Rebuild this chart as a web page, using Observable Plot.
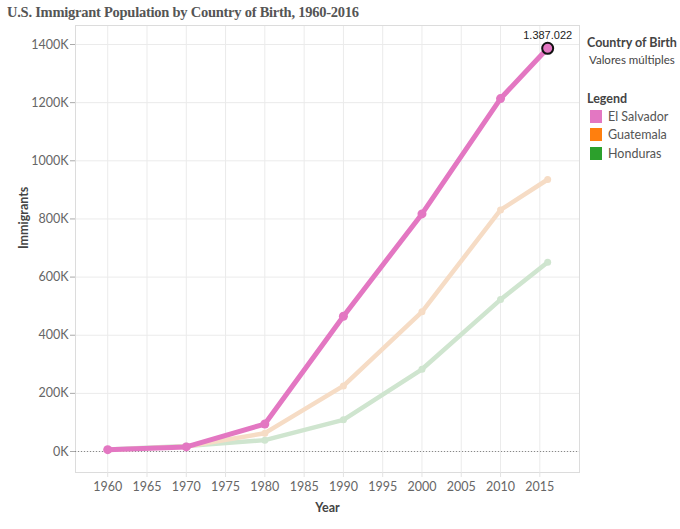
<!DOCTYPE html>
<html>
<head>
<meta charset="utf-8">
<script src="https://cdn.jsdelivr.net/npm/d3@7"></script>
<script src="https://cdn.jsdelivr.net/npm/@observablehq/plot@0.6"></script>
<style>
  html, body { margin: 0; padding: 0; background: #fff; }
  #wrap { position: relative; width: 680px; height: 529px; overflow: hidden; }
  #title { position: absolute; left: 7px; top: 4px; font-family: "Liberation Serif", serif; font-weight: bold; font-size: 14.5px; letter-spacing: -0.25px; color: #555; white-space: nowrap; }
  #chart { position: absolute; left: 0; top: 25px; }
  #legend { position: absolute; left: 587px; top: 35px; font-family: Lato, sans-serif; color: #333; }
  .lh { font-weight: bold; font-size: 12.5px; color: #444; }
  .sub { font-size: 11.5px; color: #444; margin-left: 2px; margin-top: 3px; }
  .item { display: flex; align-items: center; font-size: 12.5px; color: #555; height: 18.5px; margin-left: 3px; }
  .sw { width: 12px; height: 13px; margin-right: 6px; }
</style>
</head>
<body>
<div id="wrap">
  <div id="title">U.S. Immigrant Population by Country of Birth, 1960-2016</div>
  <div id="chart"></div>
  <div id="legend"></div>
</div>
<script>
const years = [1960, 1970, 1980, 1990, 2000, 2010, 2016];
const elSalvador = [6310, 15717, 94447, 465433, 817336, 1214049, 1387022];
const guatemala = [5381, 17356, 63073, 225739, 480665, 830824, 935705];
const honduras = [6503, 19118, 39154, 108923, 282852, 522581, 651059];
const countries = ["El Salvador", "Guatemala", "Honduras"];
const xTicks = [1960, 1965, 1970, 1975, 1980, 1985, 1990, 1995, 2000, 2005, 2010, 2015];
const yTicks = [0, 200000, 400000, 600000, 800000, 1000000, 1200000, 1400000];
const highlightLabel = "1.387.022";

const legendColors = ["#e377c2", "#ff7f0e", "#2ca02c"];
const fadedColors = ["#e377c2", "#f6dcc5", "#cfe5cf"];

const series = [elSalvador, guatemala, honduras];
const rows = [];
countries.forEach((c, i) => years.forEach((y, j) => rows.push({country: c, year: y, value: series[i][j]})));
const es = rows.filter(d => d.country === "El Salvador");
const gu = rows.filter(d => d.country === "Guatemala");
const ho = rows.filter(d => d.country === "Honduras");
const last = es.filter(d => d.year === 2016);

const chart = Plot.plot({
  width: 680,
  height: 504,
  marginTop: 0,
  marginLeft: 75,
  marginRight: 101,
  marginBottom: 57,
  style: {fontFamily: "Lato, sans-serif", fontSize: "12px", color: "#666", background: "transparent"},
  x: {domain: [1955.9, 2020.05], label: null},
  y: {domain: [-72200, 1465400], label: null},
  marks: [
    Plot.gridX(xTicks, {stroke: "#ebebeb", strokeOpacity: 1}),
    Plot.gridY(yTicks, {stroke: "#ebebeb", strokeOpacity: 1}),
    Plot.frame({stroke: "#dcdcdc"}),
    Plot.axisX(xTicks, {tickFormat: d => String(d), tickSize: 5, tickPadding: 5, stroke: "#e3e3e3", fill: "#666", fontSize: 12.5}),
    Plot.axisY(yTicks, {tickFormat: d => (d / 1000) + "K", tickSize: 5, tickPadding: 2, stroke: "#aaa", fill: "#666", fontSize: 12.5}),
    Plot.ruleY([0], {stroke: "#888", strokeDasharray: "1,2", strokeWidth: 1}),
    Plot.line(ho, {x: "year", y: "value", stroke: fadedColors[2], strokeWidth: 4.5, strokeLinecap: "round"}),
    Plot.dot(ho, {x: "year", y: "value", fill: fadedColors[2], r: 3.5}),
    Plot.line(gu, {x: "year", y: "value", stroke: fadedColors[1], strokeWidth: 4.5, strokeLinecap: "round"}),
    Plot.dot(gu, {x: "year", y: "value", fill: fadedColors[1], r: 3.5}),
    Plot.line(es, {x: "year", y: "value", stroke: fadedColors[0], strokeWidth: 5, strokeLinecap: "round"}),
    Plot.dot(es, {x: "year", y: "value", fill: fadedColors[0], r: 4.5}),
    Plot.dot(last, {x: "year", y: "value", fill: fadedColors[0], stroke: "#111", strokeWidth: 2, r: 5.5}),
    Plot.text(last, {x: "year", y: "value", text: () => highlightLabel, dy: -13, fill: "#222", fontSize: 11, fontFamily: "Liberation Sans, Arial, sans-serif"}),
    Plot.text(["Year"], {frameAnchor: "bottom", dy: 39, fontWeight: "bold", fill: "#444", fontSize: 12.5}),
    Plot.text(["Immigrants"], {frameAnchor: "left", dx: -52, rotate: -90, fontWeight: "bold", fill: "#444", fontSize: 12.5})
  ]
});
document.getElementById("chart").appendChild(chart);

const legend = document.getElementById("legend");
let html = '<div class="lh">Country of Birth</div><div class="sub">Valores múltiples</div>';
html += '<div class="lh" style="margin-top:25px;margin-bottom:1px">Legend</div>';
countries.forEach((c, i) => {
  html += `<div class="item"><div class="sw" style="background:${legendColors[i]}"></div>${c}</div>`;
});
legend.innerHTML = html;
</script>
</body>
</html>
